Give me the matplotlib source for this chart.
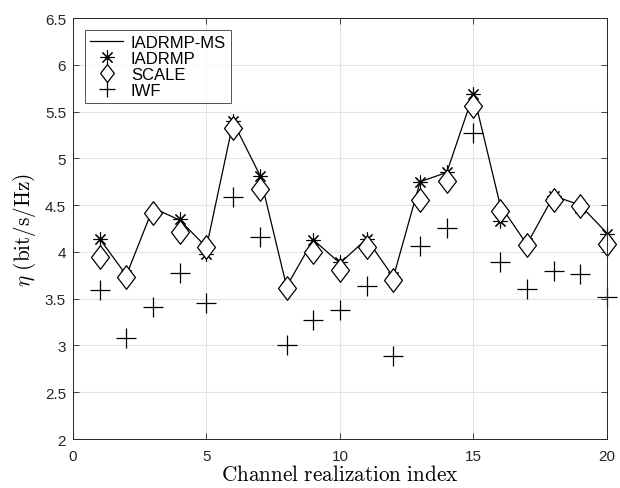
import numpy as np
import matplotlib
matplotlib.use("Agg")
import matplotlib.pyplot as plt
from matplotlib.path import Path

# values
idx = np.arange(1, 21)
iadrmp_ms = [4.14, 3.75, 4.47, 4.34, 4.05, 5.39, 4.82, 3.63, 4.13, 3.88,
             4.14, 3.73, 4.75, 4.85, 5.69, 4.50, 4.08, 4.60, 4.50, 4.20]
iadrmp = [4.14, 3.75, 4.42, 4.35, 3.98, 5.40, 4.81, 3.63, 4.13, 3.89,
          4.14, 3.73, 4.75, 4.85, 5.69, 4.33, 4.10, 4.60, 4.47, 4.19]
scale = [3.95, 3.73, 4.42, 4.21, 4.05, 5.33, 4.67, 3.61, 4.00, 3.81,
         4.05, 3.70, 4.56, 4.76, 5.56, 4.44, 4.07, 4.55, 4.49, 4.08]
iwf = [3.59, 3.08, 3.41, 3.78, 3.45, 4.59, 4.16, 3.00, 3.27, 3.38,
       3.64, 2.89, 4.06, 4.26, 5.27, 3.89, 3.60, 3.80, 3.76, 3.52]

plt.rcParams['font.family'] = ['Liberation Sans', 'DejaVu Sans']
plt.rcParams['mathtext.fontset'] = 'cm'

diamond = Path([(0, 1), (0.76, 0), (0, -1), (-0.76, 0), (0, 1)],
               [Path.MOVETO, Path.LINETO, Path.LINETO, Path.LINETO, Path.CLOSEPOLY])

fig = plt.figure(figsize=(6.2, 4.89), dpi=100)
ax = fig.add_axes([0.1177, 0.1002, 0.9790 - 0.1177, 0.961 - 0.1002])

ax.plot(idx, iadrmp_ms, '-', color='k', lw=0.9, label='IADRMP-MS', clip_on=False)
ax.plot(idx, iadrmp, ls='none', marker=(8, 2, 0), ms=10, mew=0.8,
        color='k', label='IADRMP', clip_on=False)
ax.plot(idx, scale, ls='none', marker=diamond, ms=17, mew=0.9,
        mfc='white', mec='k', label='SCALE', clip_on=False)
ax.plot(idx, iwf, ls='none', marker='+', ms=14, mew=0.9,
        color='k', label='IWF', clip_on=False)

ax.set_xlim(0, 20)
ax.set_ylim(2, 6.5)
ax.set_xticks([0, 5, 10, 15, 20])
ax.set_yticks(np.arange(2, 6.51, 0.5))
ax.set_yticklabels(['2', '2.5', '3', '3.5', '4', '4.5', '5', '5.5', '6', '6.5'])
ax.grid(True, color='#e3e3e3', lw=0.8)
ax.set_axisbelow(True)
ax.tick_params(direction='in', top=True, right=True, labelsize=11,
               length=4, width=0.6, colors='#262626')
ax.tick_params(axis='x', pad=7)
ax.tick_params(axis='y', pad=5)
for s in ax.spines.values():
    s.set_linewidth(0.7)
    s.set_color('#262626')

ax.set_xlabel(r'$\mathrm{Channel\ realization\ index}$', fontsize=15.3, labelpad=1)
ax.set_ylabel(r'$\eta\ \mathrm{(bit/s/Hz)}$', fontsize=15.3, labelpad=5)

leg = ax.legend(loc='upper left', fontsize=12, frameon=True, fancybox=False,
                edgecolor='#262626', borderpad=0.3, labelspacing=0.05,
                handlelength=2.0, handletextpad=0.45, borderaxespad=0.72)
leg.get_frame().set_linewidth(0.7)
leg.legend_handles[2].set_markersize(13)
leg.legend_handles[3].set_markersize(12)

fig.savefig('out.png', dpi=100)
